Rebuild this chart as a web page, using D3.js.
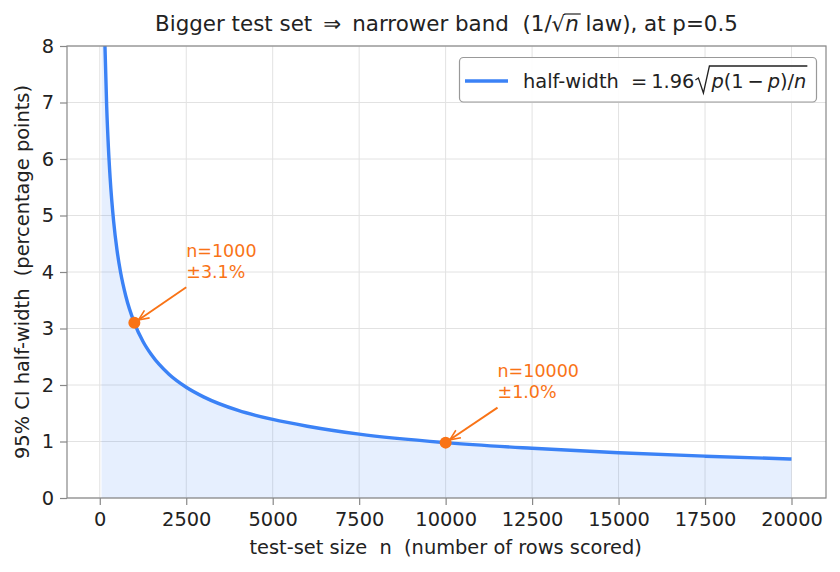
<!DOCTYPE html>
<html>
<head>
<meta charset="utf-8">
<script src="https://cdn.jsdelivr.net/npm/d3@7"></script>
<style>
  body { margin: 0; background: #fff; }
  text { font-family: "DejaVu Sans", sans-serif; white-space: pre; }
</style>
</head>
<body>
<svg width="840" height="572"></svg>
<script>
// test-set size n and 95% CI half-width (pct points)
var sizes = [50, 75, 100, 125, 150, 200, 250, 300, 400, 500, 600, 750, 1000, 1250, 1500, 2000, 2500, 3000, 4000, 5000, 6000, 7500, 10000, 12500, 15000, 17500, 20000];
var halfWidths = [13.86, 11.32, 9.80, 8.77, 8.00, 6.93, 6.20, 5.66, 4.90, 4.38, 4.00, 3.58, 3.10, 2.77, 2.53, 2.19, 1.96, 1.79, 1.55, 1.39, 1.27, 1.13, 0.98, 0.88, 0.80, 0.74, 0.69];
var xTicks = [0, 2500, 5000, 7500, 10000, 12500, 15000, 17500, 20000];
var yTicks = [0, 1, 2, 3, 4, 5, 6, 7, 8];
// tx/ty = where the arrow tail starts (text block sits just above it)
var marked = [
  { n: 1000, hw: 3.10, label: ["n=1000", "\u00b13.1%"], tx: 2500, ty: 3.73 },
  { n: 10000, hw: 0.98, label: ["n=10000", "\u00b11.0%"], tx: 11500, ty: 1.60 }
];

var svg = d3.select("svg");
var margin = { left: 67, right: 14, top: 46, bottom: 74 };
var W = 840, H = 572;

var x = d3.scaleLinear().domain([-947.5, 20997.5]).range([margin.left, W - margin.right]);
var y = d3.scaleLinear().domain([0, 8]).range([H - margin.bottom, margin.top]);

var blue = "#3b82f6", orange = "#f97316", ink = "#222";
var fs = 19.4;

var data = sizes.map(function (d, i) { return { n: d, hw: halfWidths[i] }; });

var defs = svg.append("defs");
defs.append("clipPath").attr("id", "plot")
  .append("rect").attr("x", margin.left).attr("y", margin.top)
  .attr("width", W - margin.left - margin.right).attr("height", H - margin.top - margin.bottom);

// grid
var grid = svg.append("g");
grid.selectAll(".gx").data(xTicks).enter().append("line")
  .attr("x1", function (d) { return x(d); }).attr("x2", function (d) { return x(d); })
  .attr("y1", margin.top).attr("y2", H - margin.bottom)
  .attr("stroke", "#e2e2e2").attr("stroke-width", 1);
grid.selectAll(".gy").data(yTicks).enter().append("line")
  .attr("y1", function (d) { return y(d); }).attr("y2", function (d) { return y(d); })
  .attr("x1", margin.left).attr("x2", W - margin.right)
  .attr("stroke", "#e2e2e2").attr("stroke-width", 1);

var plot = svg.append("g").attr("clip-path", "url(#plot)");

plot.append("path").datum(data)
  .attr("fill", blue).attr("fill-opacity", 0.13)
  .attr("d", d3.area().curve(d3.curveMonotoneX)
    .x(function (d) { return x(d.n); }).y0(y(0)).y1(function (d) { return y(d.hw); }));

plot.append("path").datum(data)
  .attr("fill", "none").attr("stroke", blue).attr("stroke-width", 3.4)
  .attr("d", d3.line().curve(d3.curveMonotoneX)
    .x(function (d) { return x(d.n); }).y(function (d) { return y(d.hw); }));

// annotations
defs.append("marker").attr("id", "arr")
  .attr("viewBox", "0 0 10 10").attr("refX", 9).attr("refY", 5)
  .attr("markerWidth", 13).attr("markerHeight", 13).attr("orient", "auto")
  .attr("markerUnits", "userSpaceOnUse")
  .append("path").attr("d", "M1,1.5 L9,5 L1,8.5").attr("fill", "none")
  .attr("stroke", orange).attr("stroke-width", 1.2);

marked.forEach(function (m) {
  var px = x(m.n), py = y(m.hw);
  var ax = x(m.tx), ay = y(m.ty);
  var dx = px - ax, dy = py - ay, len = Math.sqrt(dx * dx + dy * dy);
  svg.append("line").attr("x1", ax).attr("y1", ay)
    .attr("x2", px - dx / len * 5).attr("y2", py - dy / len * 5)
    .attr("stroke", orange).attr("stroke-width", 1.9).attr("marker-end", "url(#arr)");
  svg.append("circle").attr("cx", px).attr("cy", py).attr("r", 6).attr("fill", orange);
  var t = svg.append("text").attr("x", ax).attr("y", ay - 30.6)
    .attr("fill", orange).attr("font-size", 17.5);
  m.label.forEach(function (s, i) {
    t.append("tspan").attr("x", ax).attr("dy", i ? 21 : 0).text(s);
  });
});

// spines
svg.append("rect").attr("x", margin.left).attr("y", margin.top)
  .attr("width", W - margin.left - margin.right).attr("height", H - margin.top - margin.bottom)
  .attr("fill", "none").attr("stroke", "#888").attr("stroke-width", 1.2);

// axes
var xAxis = svg.append("g").attr("transform", "translate(0," + (H - margin.bottom) + ")")
  .call(d3.axisBottom(x).tickValues(xTicks).tickFormat(d3.format("d")).tickSize(7).tickPadding(7));
var yAxis = svg.append("g").attr("transform", "translate(" + margin.left + ",0)")
  .call(d3.axisLeft(y).tickValues(yTicks).tickSize(7).tickPadding(6));
[xAxis, yAxis].forEach(function (a) {
  a.select(".domain").remove();
  a.selectAll(".tick line").attr("stroke", "#888").attr("stroke-width", 1.2);
  a.selectAll(".tick text").attr("fill", ink).attr("font-size", fs)
    .style("font-family", "DejaVu Sans, sans-serif");
});

svg.append("text").attr("x", x(10000)).attr("y", 554).attr("text-anchor", "middle")
  .attr("font-size", fs).attr("fill", ink)
  .text("test-set size  n  (number of rows scored)");

svg.append("text").attr("transform", "translate(29," + y(4) + ") rotate(-90)")
  .attr("text-anchor", "middle").attr("font-size", fs).attr("fill", ink)
  .text("95% CI half-width  (percentage points)");

// title with sqrt(n)
var title = svg.append("text").attr("y", 31).attr("font-size", 21.4).attr("fill", ink);
title.append("tspan").text("Bigger test set \u2009\u21d2\u2009 narrower band  (1/\u221a");
title.append("tspan").attr("font-style", "italic").attr("class", "ov").text("n");
title.append("tspan").text(" law), at p=0.5");
var tb = title.node().getBBox();
title.attr("x", (margin.left + W - margin.right) / 2 - tb.width / 2);
var nb = title.select(".ov").node().getBBox();
svg.append("line").attr("x1", nb.x - 1).attr("x2", nb.x + nb.width + 2)
  .attr("y1", nb.y + 3).attr("y2", nb.y + 3).attr("stroke", ink).attr("stroke-width", 1.2);

// legend
var lg = svg.append("g");
lg.append("rect").attr("x", 459.5).attr("y", 57.5).attr("width", 357).attr("height", 44.5)
  .attr("rx", 4).attr("fill", "#fff").attr("fill-opacity", 0.9)
  .attr("stroke", "#999").attr("stroke-width", 1.2);
lg.append("line").attr("x1", 465).attr("x2", 508).attr("y1", 81).attr("y2", 81)
  .attr("stroke", blue).attr("stroke-width", 3.4);
var lt = lg.append("text").attr("x", 523).attr("y", 88).attr("font-size", fs).attr("fill", ink);
lt.append("tspan").text("half-width  =\u20091.96");
var rad = lt.append("tspan").attr("dx", 17);
rad.append("tspan").attr("font-style", "italic").text("p");
rad.append("tspan").text("(1\u2009\u2212\u2009");
rad.append("tspan").attr("font-style", "italic").text("p");
rad.append("tspan").text(")/");
rad.append("tspan").attr("font-style", "italic").text("n");
var rb = rad.node().getBBox();
var r0 = rb.x - 17;
lg.append("path")
  .attr("d", "M" + (r0 + 2) + ",80 L" + (r0 + 5) + ",78 L" + (r0 + 10) + ",93 L" + (r0 + 16) + ",66 L" + (rb.x + rb.width + 1) + ",66")
  .attr("fill", "none").attr("stroke", ink).attr("stroke-width", 1.3);
</script>
</body>
</html>
